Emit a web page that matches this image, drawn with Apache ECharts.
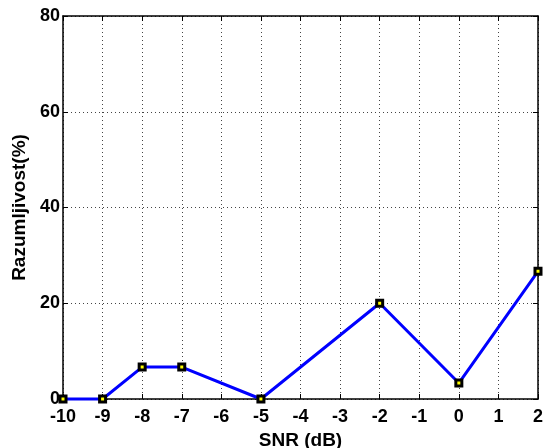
<!DOCTYPE html>
<html><head><meta charset="utf-8">
<script src="https://cdn.jsdelivr.net/npm/echarts@6/dist/echarts.min.js"></script>
<style>html,body{margin:0;padding:0;background:#fff}#c{width:554px;height:448px}</style>
</head><body><div id="c"></div>
<script>
const snr = [-10, -9, -8, -7, -5, -2, 0, 2];
const intelligibility = [0, 0, 6.67, 6.67, 0, 20, 3.33, 26.67];
const xTicks = [-10, -9, -8, -7, -6, -5, -4, -3, -2, -1, 0, 1, 2];
const yTicks = [0, 20, 40, 60, 80];

const font = 'Liberation Sans, Arial, Helvetica, sans-serif';
const chart = echarts.init(document.getElementById('c'), null, {renderer: 'canvas'});
const gridLine = {show: true, lineStyle: {color: '#444', type: [1, 3], width: 1}};
const axisLine = {show: true, onZero: false, lineStyle: {color: '#000', width: 1.5}};
const tick = {show: true, inside: true, length: 5, lineStyle: {color: '#000'}};
chart.setOption({
  animation: false,
  grid: {left: 63, right: 16, top: 16, bottom: 49, containLabel: false, outerBoundsMode: 'none'},
  xAxis: [{
    type: 'value', min: xTicks[0], max: xTicks[xTicks.length - 1], interval: 1,
    name: 'SNR (dB)', nameLocation: 'middle', nameGap: 22,
    nameTextStyle: {fontFamily: font, fontWeight: 'bold', fontSize: 19, color: '#000'},
    axisLine: axisLine, axisTick: tick, splitLine: gridLine,
    axisLabel: {fontFamily: font, fontWeight: 'bold', fontSize: 18, color: '#000', margin: 9}
  }, {
    type: 'value', position: 'top', min: xTicks[0], max: xTicks[xTicks.length - 1], interval: 1,
    axisLine: axisLine, axisTick: tick, axisLabel: {show: false}, splitLine: {show: false}
  }],
  yAxis: [{
    type: 'value', min: yTicks[0], max: yTicks[yTicks.length - 1], interval: 20,
    name: 'Razumljivost(%)', nameLocation: 'middle', nameGap: 26,
    nameTextStyle: {fontFamily: font, fontWeight: 'bold', fontSize: 19, color: '#000'},
    axisLine: axisLine, axisTick: tick, splitLine: gridLine,
    axisLabel: {fontFamily: font, fontWeight: 'bold', fontSize: 18, color: '#000', margin: 3}
  }, {
    type: 'value', position: 'right', min: yTicks[0], max: yTicks[yTicks.length - 1], interval: 20,
    axisLine: axisLine, axisTick: tick, axisLabel: {show: false}, splitLine: {show: false}
  }],
  series: [{
    type: 'line',
    data: snr.map((x, i) => [x, intelligibility[i]]),
    lineStyle: {color: '#0000ff', width: 3},
    symbol: 'rect', symbolSize: 6,
    itemStyle: {color: '#ffff00', borderColor: '#000', borderWidth: 3},
    clip: false, z: 5
  }]
});
</script></body></html>
